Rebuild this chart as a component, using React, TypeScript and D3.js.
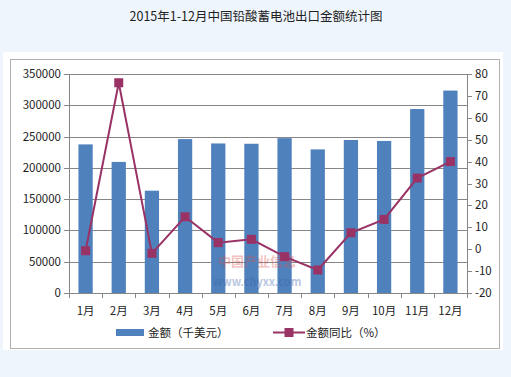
import React from "react";
import * as d3 from "d3";

const months = ["1月", "2月", "3月", "4月", "5月", "6月", "7月", "8月", "9月", "10月", "11月", "12月"];
const amounts = [237500, 209500, 163500, 246000, 239000, 238500, 247500, 229500, 244500, 243000, 294000, 323500];
const yoy = [-0.7, 76, -1.9, 14.8, 3.0, 4.5, -3.4, -9.5, 7.5, 13.6, 32.5, 40];
const leftTicks = [0, 50000, 100000, 150000, 200000, 250000, 300000, 350000];
const rightTicks = [-20, -10, 0, 10, 20, 30, 40, 50, 60, 70, 80];
const title = "2015年1-12月中国铅酸蓄电池出口金额统计图";
const legendBar = "金额（千美元）";
const legendLine = "金额同比（%）";

const W = 511, H = 377;
const plot = { left: 69, right: 467, top: 74, bottom: 293 };
const BAR = "#4f81bd";
const LINE = "#993366";
const FONT = "'Noto Sans CJK SC', 'DejaVu Sans', sans-serif";

export default function App() {
  const x = d3.scaleBand<string>().domain(months).range([plot.left, plot.right]).paddingInner(0.57).paddingOuter(0.285);
  const xc = d3.scaleBand<string>().domain(months).range([plot.left, plot.right]);
  const yL = d3.scaleLinear().domain([0, 350000]).range([plot.bottom, plot.top]);
  const yR = d3.scaleLinear().domain([-20, 80]).range([plot.bottom, plot.top]);
  const line = d3.line<number>().x((_, i) => xc(months[i])! + xc.bandwidth() / 2).y((d) => yR(d));
  const boundaries = months.map((m) => xc(m)!).concat([plot.right]);

  return (
    <svg width={W} height={H} style={{ position: "absolute", left: 0, top: 0 }} fontFamily={FONT}>
      <rect x={0} y={0} width={W} height={H} fill="#eef5fd" />
      <text x={256} y={21} textAnchor="middle" fontSize={12.5} fill="#222">{title}</text>
      <rect x={3} y={52} width={500} height={298} fill="#fff" />
      <rect x={10.5} y={59.5} width={489} height={289} fill="none" stroke="#b0b0b0" strokeWidth={1} />

      {leftTicks.map((t) => (
        <g key={"g" + t}>
          <line x1={plot.left} x2={plot.right} y1={Math.round(yL(t)) + 0.5} y2={Math.round(yL(t)) + 0.5} stroke="#868686" strokeWidth={1} />
          <line x1={plot.left - 5} x2={plot.left} y1={Math.round(yL(t)) + 0.5} y2={Math.round(yL(t)) + 0.5} stroke="#868686" />
          <text x={plot.left - 8} y={yL(t) + 4} textAnchor="end" fontSize={11.5} fill="#222">{t}</text>
        </g>
      ))}
      {rightTicks.map((t) => (
        <g key={"r" + t}>
          <line x1={plot.right} x2={plot.right + 5} y1={Math.round(yR(t)) + 0.5} y2={Math.round(yR(t)) + 0.5} stroke="#868686" />
          <text x={plot.right + 8} y={yR(t) + 4} textAnchor="start" fontSize={11.5} fill="#222">{t}</text>
        </g>
      ))}
      <line x1={plot.left + 0.5} x2={plot.left + 0.5} y1={plot.top} y2={plot.bottom} stroke="#868686" />
      <line x1={plot.right + 0.5} x2={plot.right + 0.5} y1={plot.top} y2={plot.bottom} stroke="#868686" />
      {boundaries.map((b, i) => (
        <line key={"b" + i} x1={Math.round(b) + 0.5} x2={Math.round(b) + 0.5} y1={plot.bottom} y2={plot.bottom + 5} stroke="#868686" />
      ))}

      {months.map((m, i) => (
        <rect key={"bar" + m} x={x(m)!} y={yL(amounts[i])} width={x.bandwidth()} height={plot.bottom - yL(amounts[i])} fill={BAR} />
      ))}

      <g opacity={0.35}>
        <text x={257} y={266} textAnchor="middle" fontSize={13} fontWeight="bold" fill="#d9534f">中国产业信息</text>
        <text x={257} y={286} textAnchor="middle" fontSize={11} fontWeight="bold" fill="#3a5fa8">www.chyxx.com</text>
      </g>

      <path d={line(yoy)!} fill="none" stroke={LINE} strokeWidth={2} />
      {yoy.map((v, i) => (
        <rect key={"mk" + i} x={xc(months[i])! + xc.bandwidth() / 2 - 4.5} y={yR(v) - 4.5} width={9} height={9} fill={LINE} />
      ))}

      {months.map((m) => (
        <text key={"xl" + m} x={xc(m)! + xc.bandwidth() / 2} y={315} textAnchor="middle" fontSize={11.5} fill="#222">{m}</text>
      ))}

      <rect x={116} y={329} width={28} height={7} fill={BAR} />
      <text x={148} y={337} fontSize={11.5} fill="#222">{legendBar}</text>
      <line x1={273} x2={305} y1={332.5} y2={332.5} stroke={LINE} strokeWidth={2} />
      <rect x={284.5} y={328} width={9} height={9} fill={LINE} />
      <text x={306} y={337} fontSize={11.5} fill="#222">{legendLine}</text>
    </svg>
  );
}
